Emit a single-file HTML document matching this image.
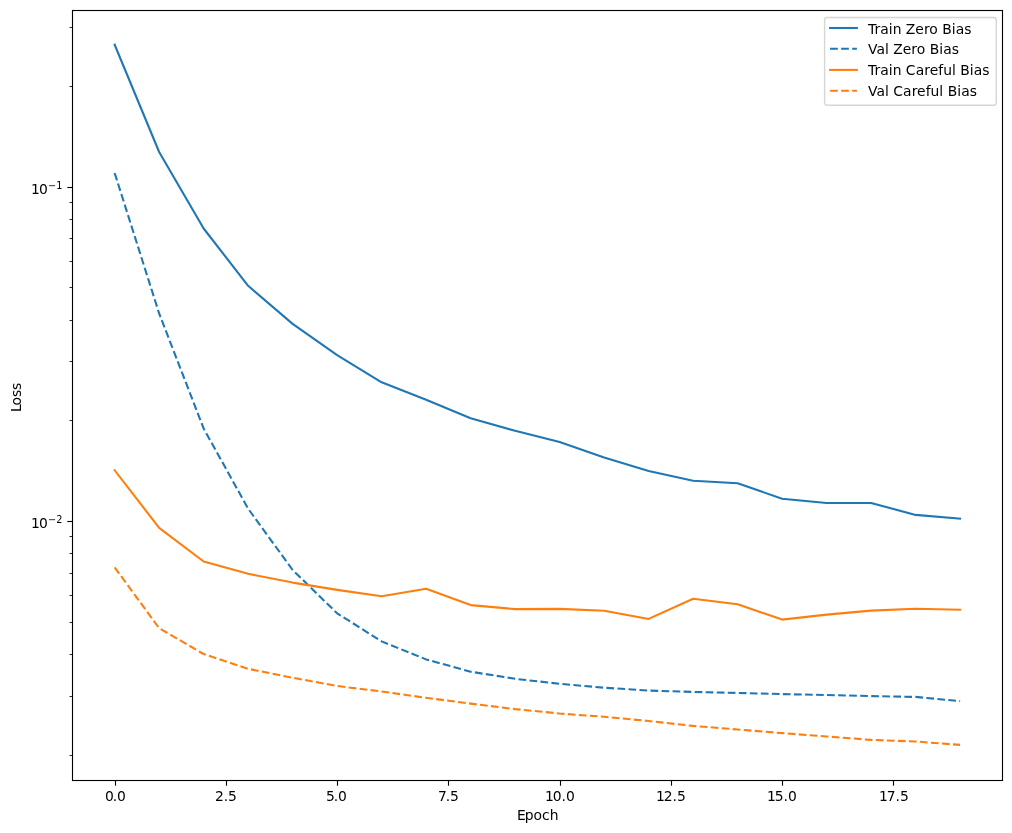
<!DOCTYPE html>
<html lang="en"><head><meta charset="utf-8"><title>Loss vs Epoch</title>
<style>html,body{margin:0;padding:0;background:#fff;}body{width:1012px;height:833px;overflow:hidden;}svg{display:block;}</style>
</head><body>
<svg width="1012" height="833" viewBox="0 0 1012 833" font-family="'DejaVu Sans', 'Liberation Sans', sans-serif" font-size="13.89px" fill="#000">
<rect x="0" y="0" width="1012" height="833" fill="#fff"/>
<g fill="none" stroke-width="2.083" stroke-linejoin="round">
<polyline points="114.65,44.70 159.15,152.00 203.65,228.50 248.14,285.80 292.64,323.90 337.14,355.10 381.64,382.30 426.14,399.70 470.63,418.30 515.13,430.80 559.63,442.10 604.13,457.50 648.63,471.10 693.12,480.80 737.62,483.20 782.12,498.80 826.62,503.00 871.12,503.00 915.61,514.90 960.11,518.60" stroke="#1f77b4" stroke-linecap="square"/>
<polyline points="114.65,173.00 159.15,313.50 203.65,428.50 248.14,508.70 292.64,570.00 337.14,613.30 381.64,641.40 426.14,659.40 470.63,671.70 515.13,678.80 559.63,683.80 604.13,687.70 648.63,690.60 693.12,691.90 737.62,692.90 782.12,694.10 826.62,695.00 871.12,696.10 915.61,696.90 960.11,701.10" stroke="#1f77b4" stroke-dasharray="7.71 3.33"/>
<polyline points="114.65,470.30 159.15,527.80 203.65,561.50 248.14,573.80 292.64,582.60 337.14,589.90 381.64,596.30 426.14,588.70 470.63,605.10 515.13,609.10 559.63,608.90 604.13,610.70 648.63,618.90 693.12,598.80 737.62,604.20 782.12,619.60 826.62,614.60 871.12,610.60 915.61,608.80 960.11,609.80" stroke="#ff7f0e" stroke-linecap="square"/>
<polyline points="114.65,567.30 159.15,628.20 203.65,654.00 248.14,668.80 292.64,677.80 337.14,686.00 381.64,691.50 426.14,697.80 470.63,703.60 515.13,709.10 559.63,713.50 604.13,716.80 648.63,721.00 693.12,725.90 737.62,729.50 782.12,733.10 826.62,736.50 871.12,739.90 915.61,741.50 960.11,744.90" stroke="#ff7f0e" stroke-dasharray="7.71 3.33"/>
</g>
<g stroke="#000" stroke-width="1.11" fill="none">
<line x1="115.5" y1="780.5" x2="115.5" y2="785.70"/>
<line x1="226.5" y1="780.5" x2="226.5" y2="785.70"/>
<line x1="337.5" y1="780.5" x2="337.5" y2="785.70"/>
<line x1="448.5" y1="780.5" x2="448.5" y2="785.70"/>
<line x1="560.5" y1="780.5" x2="560.5" y2="785.70"/>
<line x1="671.5" y1="780.5" x2="671.5" y2="785.70"/>
<line x1="782.5" y1="780.5" x2="782.5" y2="785.70"/>
<line x1="893.5" y1="780.5" x2="893.5" y2="785.70"/>
<line x1="72.5" y1="187.5" x2="67.30" y2="187.5"/>
<line x1="72.5" y1="521.5" x2="67.30" y2="521.5"/>
</g>
<g stroke="#000" stroke-width="0.83" fill="none">
<line x1="72.5" y1="755.5" x2="69.50" y2="755.5"/>
<line x1="72.5" y1="696.5" x2="69.50" y2="696.5"/>
<line x1="72.5" y1="654.5" x2="69.50" y2="654.5"/>
<line x1="72.5" y1="622.5" x2="69.50" y2="622.5"/>
<line x1="72.5" y1="595.5" x2="69.50" y2="595.5"/>
<line x1="72.5" y1="573.5" x2="69.50" y2="573.5"/>
<line x1="72.5" y1="553.5" x2="69.50" y2="553.5"/>
<line x1="72.5" y1="536.5" x2="69.50" y2="536.5"/>
<line x1="72.5" y1="420.5" x2="69.50" y2="420.5"/>
<line x1="72.5" y1="361.5" x2="69.50" y2="361.5"/>
<line x1="72.5" y1="320.5" x2="69.50" y2="320.5"/>
<line x1="72.5" y1="287.5" x2="69.50" y2="287.5"/>
<line x1="72.5" y1="261.5" x2="69.50" y2="261.5"/>
<line x1="72.5" y1="238.5" x2="69.50" y2="238.5"/>
<line x1="72.5" y1="219.5" x2="69.50" y2="219.5"/>
<line x1="72.5" y1="202.5" x2="69.50" y2="202.5"/>
<line x1="72.5" y1="86.5" x2="69.50" y2="86.5"/>
<line x1="72.5" y1="27.5" x2="69.50" y2="27.5"/>
</g>
<rect x="72.5" y="10.5" width="930.0" height="770.00" fill="none" stroke="#000" stroke-width="1.11" stroke-linejoin="miter"/>
<text x="104.93 112.74 117.05" y="801.07">0.0</text>
<text x="214.96 223.74 228.09" y="801.07">2.5</text>
<text x="325.97 333.74 338.05" y="801.07">5.0</text>
<text x="437.98 445.74 450.09" y="801.07">7.5</text>
<text x="545.05 552.80 561.61 565.93" y="801.07">10.0</text>
<text x="656.05 663.83 672.61 676.97" y="801.07">12.5</text>
<text x="767.05 774.84 783.61 787.93" y="801.07">15.0</text>
<text x="879.05 886.86 895.61 899.97" y="801.07">17.5</text>
<text x="516.98 524.75 533.59 542.10 549.75" y="820.07">Epoch</text>
<text transform="translate(21.0,411) rotate(-90)" x="-1.02 5.47 13.95 21.07" y="0">Loss</text>
<text x="30.9" y="193.90" letter-spacing="-0.8">10<tspan font-size="9.72px" letter-spacing="0" dx="1.1" dy="-5.1">−1</tspan></text>
<text x="30.9" y="527.90" letter-spacing="-0.8">10<tspan font-size="9.72px" letter-spacing="0" dx="1.1" dy="-5.1">−2</tspan></text>
<rect x="824.6" y="17.45" width="171.7" height="87.75" rx="2.78" ry="2.78" fill="#fff" fill-opacity="0.8" stroke="#ccc" stroke-opacity="0.8" stroke-width="1.39"/>
<line x1="830.1" y1="28.0" x2="856.9" y2="28.0" stroke="#1f77b4" stroke-width="2.083" stroke-linecap="square"/>
<text x="868.01 874.51 880.30 888.85 892.75 901.50 905.87 915.37 923.89 929.34 937.88 942.30 951.85 955.80 964.32" y="34.07">Train Zero Bias</text>
<line x1="830.1" y1="48.8" x2="856.9" y2="48.8" stroke="#1f77b4" stroke-width="2.083" stroke-dasharray="7.71 3.33"/>
<text x="867.99 876.43 884.97 888.88 893.24 902.75 911.26 916.72 925.25 929.67 939.22 943.18 951.70" y="54.07">Val Zero Bias</text>
<line x1="830.1" y1="69.9" x2="856.9" y2="69.9" stroke="#ff7f0e" stroke-width="2.083" stroke-linecap="square"/>
<text x="868.01 874.51 880.30 888.85 892.75 901.50 905.86 915.68 924.26 929.75 938.29 943.20 951.97 955.88 960.30 969.85 973.80 982.32" y="75.07">Train Careful Bias</text>
<line x1="830.1" y1="90.8" x2="856.9" y2="90.8" stroke="#ff7f0e" stroke-width="2.083" stroke-dasharray="7.71 3.33"/>
<text x="867.99 876.43 884.97 888.88 893.23 903.05 911.64 917.12 925.67 930.58 939.35 943.25 947.67 957.22 961.18 969.70" y="96.07">Val Careful Bias</text>
</svg>
</body></html>
